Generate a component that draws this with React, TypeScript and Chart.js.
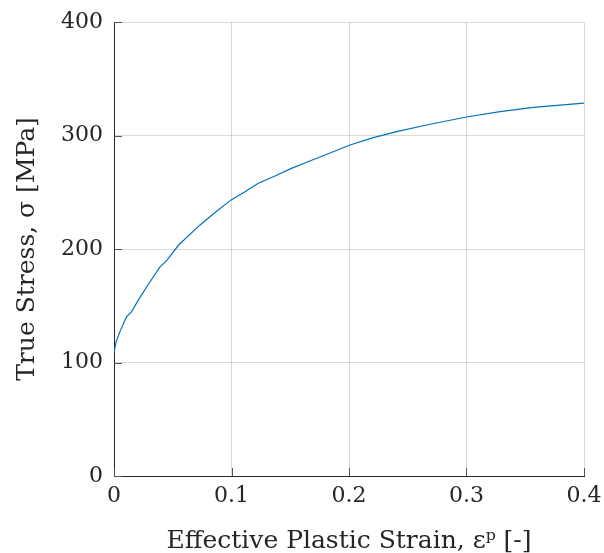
import React, { useEffect, useRef } from "react";
import { Chart, registerables } from "chart.js";

Chart.register(...registerables);

const strain = [0, 0.002, 0.005, 0.0094, 0.0108, 0.015, 0.0207, 0.028, 0.039, 0.045, 0.055, 0.073, 0.087, 0.1, 0.1115, 0.1228, 0.137, 0.151, 0.165, 0.1796, 0.2009, 0.2207, 0.2406, 0.269, 0.3, 0.3285, 0.357, 0.4];
const stress = [109, 119, 127, 137.4, 140.4, 144.8, 155, 167, 184, 190, 203.5, 221, 233, 243.5, 250.5, 257.9, 264.3, 271, 276.9, 282.8, 291.6, 298.1, 303.4, 309.9, 316.3, 321, 324.8, 328.6];
const xTicks = [0, 0.1, 0.2, 0.3, 0.4];
const yTicks = [0, 100, 200, 300, 400];

const FONT = "'DejaVu Serif', serif";
const TEXT = "#262626";

const innerTicks = {
  id: "innerTicks",
  afterDatasetsDraw(chart: any) {
    const { ctx, chartArea, scales } = chart;
    ctx.save();
    ctx.strokeStyle = "#555";
    ctx.lineWidth = 1;
    ctx.beginPath();
    for (const v of yTicks) {
      const y = Math.round(scales.y.getPixelForValue(v)) + 0.5;
      ctx.moveTo(chartArea.left, y);
      ctx.lineTo(chartArea.left + 8, y);
    }
    for (const v of xTicks) {
      const x = Math.round(scales.x.getPixelForValue(v)) + 0.5;
      ctx.moveTo(x, chartArea.bottom);
      ctx.lineTo(x, chartArea.bottom - 8);
    }
    ctx.stroke();
    ctx.restore();
  },
};

export default function App() {
  const ref = useRef<HTMLCanvasElement>(null);
  useEffect(() => {
    document.body.style.margin = "0";
    const data = strain.map((s, i) => ({ x: s, y: stress[i] }));
    const chart = new Chart(ref.current!, {
      type: "line",
      data: {
        datasets: [
          {
            data,
            borderColor: "#0072BD",
            borderWidth: 1.2,
            pointRadius: 0,
            tension: 0,
            fill: false,
          },
        ],
      },
      options: {
        animation: false,
        responsive: false,
        layout: { padding: { top: 22, right: 20, left: 0, bottom: 0 } },
        plugins: { legend: { display: false }, tooltip: { enabled: false } },
        scales: {
          x: {
            type: "linear",
            min: 0,
            max: 0.4,
            afterFit: (s: any) => {
              s.height = 77;
              s.paddingLeft = 0;
              s.paddingRight = 0;
            },
            afterBuildTicks: (s: any) => {
              s.ticks = xTicks.map((v) => ({ value: v }));
            },
            ticks: {
              color: TEXT,
              font: { family: FONT, size: 22 },
              padding: 7,
              maxRotation: 0,
              callback: (v: any) => String(v),
            },
            grid: { color: "rgba(0,0,0,0.15)", drawTicks: false },
            border: { color: TEXT, width: 1 },
            title: {
              display: true,
              text: "Effective Plastic Strain, εᵖ [-]",
              color: TEXT,
              font: { family: FONT, size: 25 },
              padding: { top: 0, bottom: -3 },
            },
          },
          y: {
            type: "linear",
            min: 0,
            max: 400,
            afterFit: (s: any) => {
              s.width = 114;
              s.paddingTop = 0;
              s.paddingBottom = 0;
            },
            afterBuildTicks: (s: any) => {
              s.ticks = yTicks.map((v) => ({ value: v }));
            },
            ticks: {
              color: TEXT,
              font: { family: FONT, size: 22 },
              padding: 11,
              callback: (v: any) => String(v),
            },
            grid: { color: "rgba(0,0,0,0.15)", drawTicks: false },
            border: { color: TEXT, width: 1 },
            title: {
              display: true,
              text: "True Stress, σ [MPa]",
              color: TEXT,
              font: { family: FONT, size: 25 },
              padding: { top: 12, bottom: 0 },
            },
          },
        },
      },
      plugins: [innerTicks],
    });
    return () => chart.destroy();
  }, []);
  return <canvas ref={ref} width={604} height={553} style={{ display: "block" }} />;
}
